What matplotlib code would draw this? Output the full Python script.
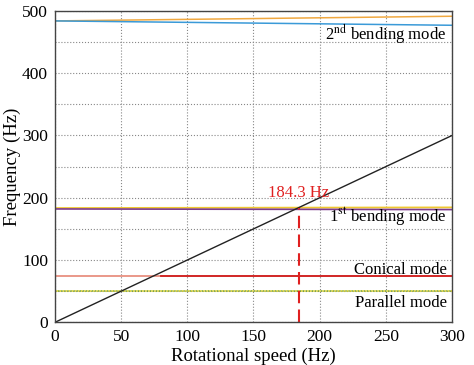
import matplotlib
matplotlib.use("Agg")
import matplotlib.pyplot as plt
import numpy as np

plt.rcParams['font.family'] = ['Liberation Serif', 'DejaVu Serif']
plt.rcParams['mathtext.fontset'] = 'stix'

speed = [0, 300]
bend2_fwd = [484, 491.5]
bend2_bwd = [484, 477]
bend1_fwd = [183.5, 184.5]
bend1_bwd = [182, 181]
conical_a = [75, 75]
conical_b = [74.5, 74.5]
parallel_a = [50, 50]
parallel_b = [50.4, 50.4]
excitation = [0, 300]
critical = 184.3

fig = plt.figure(figsize=(4.74, 3.65), dpi=100)
ax = fig.add_axes([0.116, 0.117, 0.8376, 0.853])

ax.plot(speed, bend2_fwd, color='#f0a840', lw=1.1)
ax.plot(speed, bend2_bwd, color='#3a9ad8', lw=1.1)
ax.plot(speed, bend1_fwd, color='#f0c830', lw=1.3)
ax.plot(speed, bend1_bwd, color='#7e3a8e', lw=1.2)
ax.plot(speed, conical_a, color='#e89080', lw=1.3)
ax.plot([80, 300], conical_b, color='#d02020', lw=1.3)
ax.plot(speed, parallel_a, color='#70a030', lw=1.1, ls=(0, (1, 1)))
ax.plot(speed, parallel_b, color='#e0d020', lw=1.1, ls=(1, (1, 1)))
ax.plot(speed, excitation, color='#222222', lw=1)
ax.plot([critical, critical], [0, critical], color='#e02020', lw=1.5, ls=(0, (6, 3)))
ax.text(critical, 195, f'{critical} Hz', color='#e02020', ha='center', va='bottom', fontsize=12)

ax.text(296, 444, r'2$^{\rm nd}$ bending mode', ha='right', va='bottom', fontsize=12)
ax.text(296, 169, r'1$^{\rm st}$ bending mode', ha='right', va='center', fontsize=12)
ax.text(296, 84, 'Conical mode', ha='right', va='center', fontsize=12)
ax.text(296, 31, 'Parallel mode', ha='right', va='center', fontsize=12)

ax.set_xlim(0, 300)
ax.set_ylim(0, 500)
ax.set_xticks(np.arange(0, 301, 50))
ax.set_yticks(np.arange(0, 501, 100))
ax.set_yticks(np.arange(0, 501, 50), minor=True)
ax.tick_params(which='both', length=0, labelsize=12.5, pad=5)
ax.grid(True, which='both', axis='y', ls=':', color='#888888', lw=0.8)
ax.grid(True, which='major', axis='x', ls=':', color='#888888', lw=0.8)
ax.set_xlabel('Rotational speed (Hz)', fontsize=13.5, labelpad=2)
ax.set_ylabel('Frequency (Hz)', fontsize=13.5, labelpad=1)
for s in ax.spines.values():
    s.set_linewidth(1)
    s.set_color('#444444')

fig.savefig('out.png', dpi=100)
